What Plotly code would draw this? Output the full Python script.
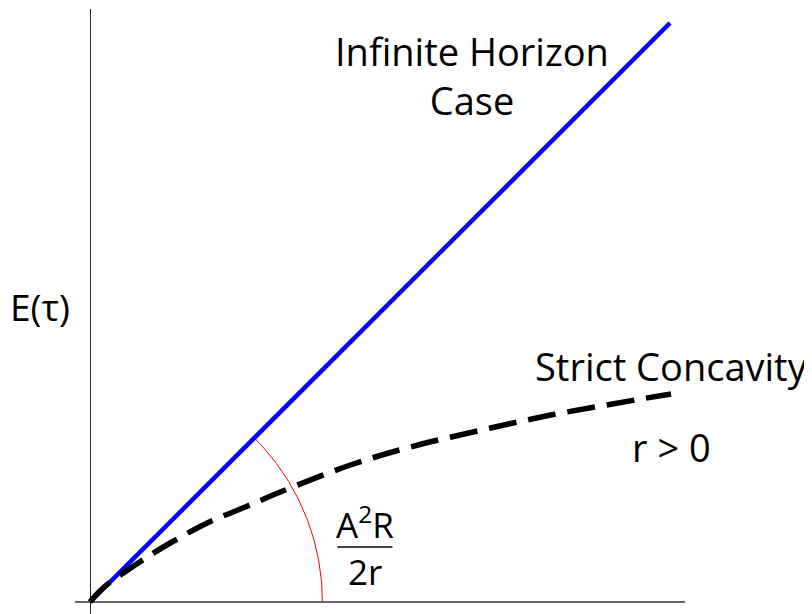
"""Sketch of expected cost E(tau): infinite horizon line vs. strictly concave case."""

import numpy as np
import plotly.graph_objects as go

# infinite horizon case: straight line through the origin
linear_tau = [0.0, 5.79]
linear_e = [0.0, 5.79]

# strict concavity (r > 0)
concave_tau = [0.0, 0.13, 0.45, 0.80, 1.17, 1.55, 1.90, 2.60, 3.20, 4.00, 4.60, 5.10, 5.50, 5.80]
concave_e = [0.0, 0.14, 0.37, 0.59, 0.79, 0.95, 1.10, 1.37, 1.55, 1.74, 1.87, 1.96, 2.03, 2.08]

# angle marker between the line and the tau axis
arc_radius = 2.32

FONT = "Open Sans, Lato, sans-serif"

slope_angle = np.arctan2(linear_e[1], linear_tau[1])
theta = np.linspace(0, slope_angle, 60)
arc_x = arc_radius * np.cos(theta)
arc_y = arc_radius * np.sin(theta)

fig = go.Figure()
fig.add_trace(go.Scatter(x=arc_x, y=arc_y, mode="lines",
                         line=dict(color="#ff0000", width=1), hoverinfo="skip"))
fig.add_trace(go.Scatter(x=linear_tau, y=linear_e, mode="lines",
                         line=dict(color="#0000ff", width=4.5)))
fig.add_trace(go.Scatter(x=concave_tau, y=concave_e, mode="lines",
                         line=dict(color="black", width=5.5, dash="28px,12px", shape="spline")))

txt = dict(family=FONT, size=38, color="black")
fig.add_annotation(x=3.81, y=5.27, text="Infinite Horizon<br>Case", showarrow=False, font=txt)
# axis label sits left of the plot area, so place it in paper coords
fig.add_annotation(x=-0.057, y=0.509, xref="paper", yref="paper", text="E(τ)",
                   xanchor="center", yanchor="middle", showarrow=False,
                   font=dict(family=FONT, size=37, color="black"))
fig.add_annotation(x=5.81, y=2.36, text="Strict Concavity", showarrow=False, font=txt)
fig.add_annotation(x=5.81, y=1.55, text="r &gt; 0", showarrow=False, font=txt)
frac = dict(family=FONT, size=35, color="black")
fig.add_annotation(x=2.75, y=0.80, text="A<sup>2</sup>R", showarrow=False, font=frac)
fig.add_annotation(x=2.75, y=0.31, text="2r", showarrow=False, font=frac)
fig.add_shape(type="line", x0=2.47, x1=3.02, y0=0.55, y1=0.55, line=dict(color="black", width=1.5))

fig.update_xaxes(range=[-0.15, 5.94], showgrid=False, showticklabels=False, ticks="",
                 zeroline=True, zerolinecolor="#222222", zerolinewidth=1)
fig.update_yaxes(range=[-0.12, 5.93], showgrid=False, showticklabels=False, ticks="",
                 zeroline=True, zerolinecolor="#666666", zerolinewidth=1.5)
# page body adds an 8px offset, so the figure is 8px smaller and margins shifted
fig.update_layout(
    width=804, height=606, showlegend=False,
    plot_bgcolor="white", paper_bgcolor="white",
    margin=dict(l=67, r=127, t=1, b=0),
)
fig.write_html("out.html")
